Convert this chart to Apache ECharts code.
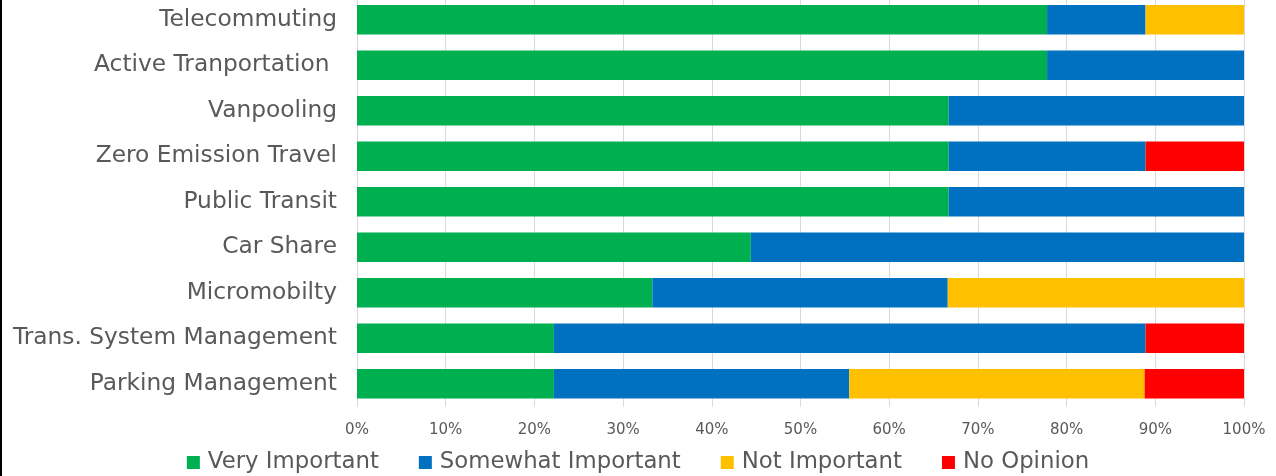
<!DOCTYPE html>
<html>
<head>
<meta charset="utf-8">
<title>Importance of Transportation Strategies</title>
<script src="https://cdn.jsdelivr.net/npm/echarts@6/dist/echarts.min.js"></script>
<style>
  html, body { margin: 0; padding: 0; background: #ffffff; overflow: hidden; }
  #chart { width: 1276px; height: 479px; margin-top: -3px; }
</style>
</head>
<body>
<div id="chart"></div>
<script>
// Strategies, listed top to bottom
const categories = [
  'Telecommuting',
  'Active Tranportation ',
  'Vanpooling',
  'Zero Emission Travel',
  'Public Transit',
  'Car Share',
  'Micromobilty',
  'Trans. System Management',
  'Parking Management'
];

// Share of responses (%) per strategy
const veryImportant     = [77.8, 77.8, 66.7, 66.7, 66.7, 44.4, 33.3, 22.2, 22.2];
const somewhatImportant = [11.1, 22.2, 33.3, 22.2, 33.3, 55.6, 33.3, 66.7, 33.3];
const notImportant      = [11.1, 0,    0,    0,    0,    0,    33.4, 0,    33.3];
const noOpinion         = [0,    0,    0,    11.1, 0,    0,    0,    11.1, 11.2];

const seriesNames = ['Very Important', 'Somewhat Important', 'Not Important', 'No Opinion'];
const seriesColors = ['#00B050', '#0070C0', '#FFC000', '#FF0000'];
const seriesValues = [veryImportant, somewhatImportant, notImportant, noOpinion];

const labelFont = '"DejaVu Sans", Verdana, sans-serif';

const chart = echarts.init(document.getElementById('chart'), null, { renderer: 'canvas' });

chart.setOption({
  animation: false,
  backgroundColor: '#ffffff',
  grid: { left: 357, right: 32, top: 0, bottom: 69.5, containLabel: false },
  xAxis: {
    type: 'value',
    min: 0,
    max: 100,
    interval: 10,
    axisLine: { show: false },
    axisTick: { show: false },
    splitLine: { show: true, lineStyle: { color: '#D9D9D9', width: 1 } },
    axisLabel: {
      formatter: '{value}%',
      color: '#595959',
      fontFamily: labelFont,
      fontSize: 15,
      margin: 16
    }
  },
  yAxis: {
    type: 'category',
    data: categories,
    inverse: true,
    axisLine: { show: true, lineStyle: { color: '#D9D9D9', width: 1 } },
    axisTick: { show: false },
    axisLabel: {
      color: '#595959',
      fontFamily: labelFont,
      fontSize: 23.3,
      margin: 20
    }
  },
  legend: {
    bottom: 2,
    padding: 0,
    left: 'center',
    itemWidth: 13,
    itemHeight: 13,
    itemGap: 40,
    icon: 'rect',
    textStyle: { color: '#595959', fontFamily: labelFont, fontSize: 22.8, padding: [0, 0, 0, 3] },
    data: seriesNames
  },
  series: seriesNames.map((name, i) => ({
    name: name,
    type: 'bar',
    stack: 'total',
    barCategoryGap: '35%',
    itemStyle: { color: seriesColors[i] },
    data: seriesValues[i]
  })),
  graphic: [
    {
      type: 'rect',
      shape: { x: 0, y: 0, width: 2, height: 479 },
      style: { fill: '#000000' }
    }
  ]
});
</script>
</body>
</html>
